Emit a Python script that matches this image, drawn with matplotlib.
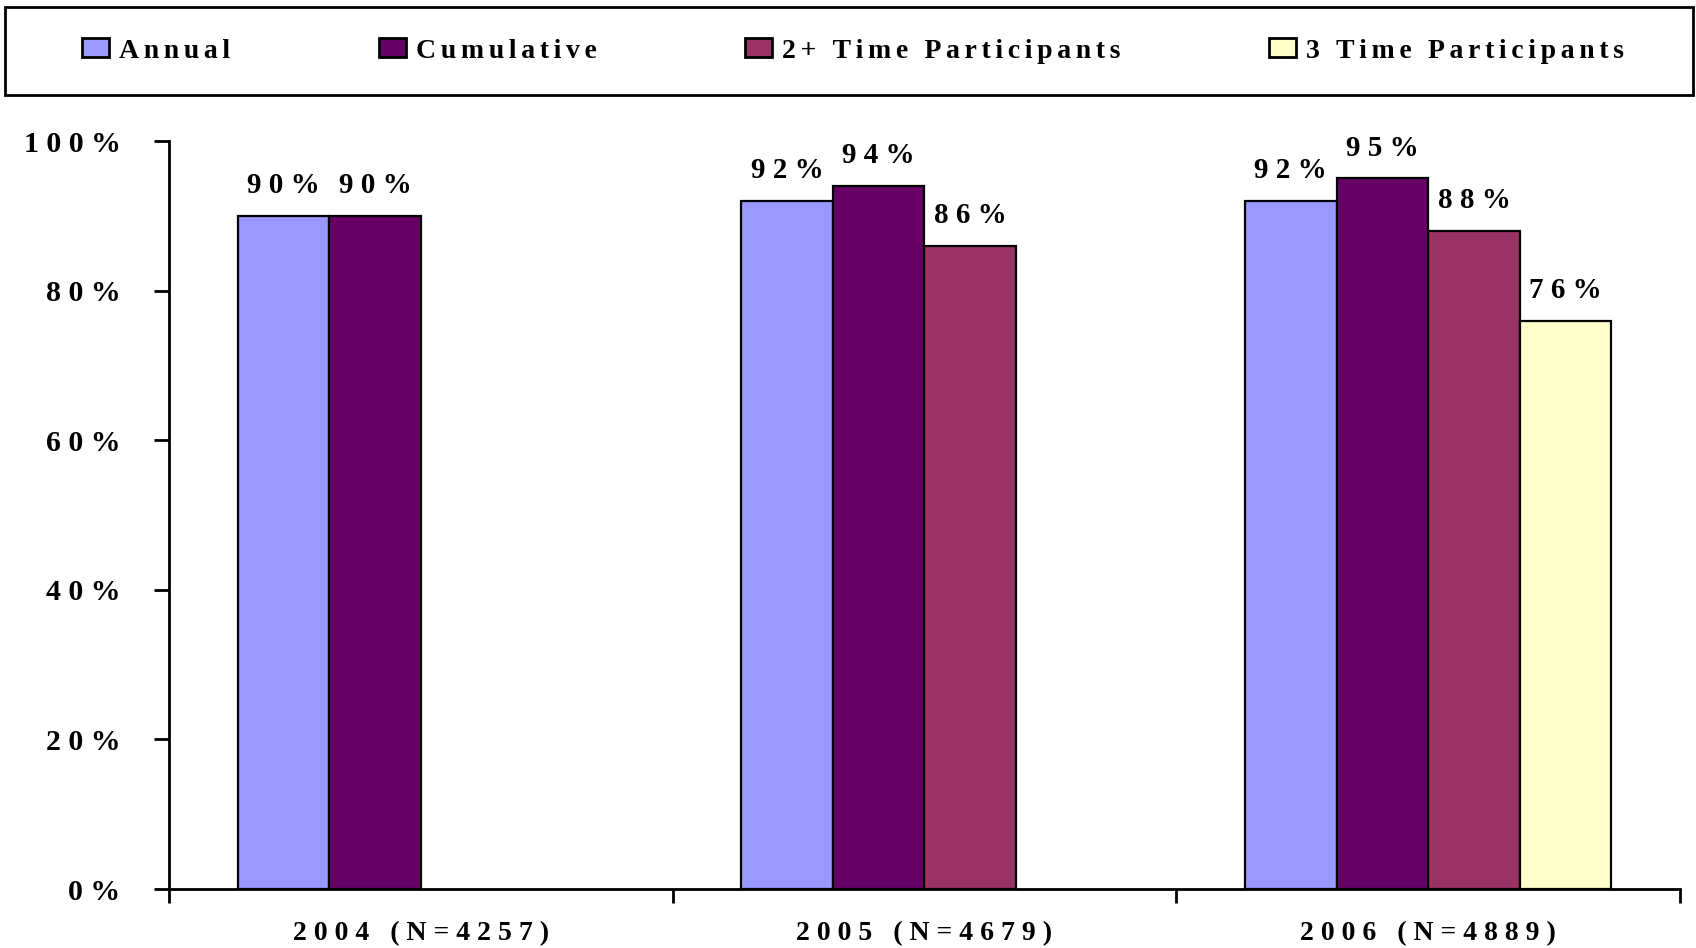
import matplotlib
matplotlib.use("Agg")
import matplotlib.pyplot as plt
from matplotlib.patches import Rectangle
import numpy as np

# Data
categories = ["2004 (N=4257)", "2005 (N=4679)", "2006 (N=4889)"]
series_names = ["Annual", "Cumulative", "2+ Time Participants", "3 Time Participants"]
annual = [90, 92, 92]
cumulative = [90, 94, 95]
two_plus = [None, 86, 88]
three_time = [None, None, 76]
y_ticks = [0, 20, 40, 60, 80, 100]

series_values = [annual, cumulative, two_plus, three_time]
colors = ["#9999FF", "#660066", "#993366", "#FFFFCC"]

plt.rcParams["font.family"] = ["Liberation Serif", "DejaVu Serif"]
plt.rcParams["font.weight"] = "bold"


def tracked(s, gap="\u2005"):
    """Widely tracked lettering: a narrow space between every character."""
    return gap.join(s)


W, H = 1696, 948
fig = plt.figure(figsize=(W / 100, H / 100), dpi=100)

# Plot area in pixel terms
left, right, top, bottom = 169, 1680, 141, 889
ax = fig.add_axes([left / W, 1 - bottom / H, (right - left) / W, (bottom - top) / H])

n_series = len(series_names)
bar_w = 1 / (n_series + 1.5)
x = np.arange(len(categories))

handles = []
for j, (name, vals, col) in enumerate(zip(series_names, series_values, colors)):
    offs = -n_series * bar_w / 2 + (j + 0.5) * bar_w
    xs = [xi + offs for xi, v in zip(x, vals) if v is not None]
    vs = [v for v in vals if v is not None]
    bars = ax.bar(xs, vs, width=bar_w, color=col, edgecolor="black",
                  linewidth=1.6, label=name, zorder=3)
    handles.append(bars)
    for xb, v in zip(xs, vs):
        ax.annotate(tracked(f"{v}%"), xy=(xb, v), xytext=(0, 12),
                    textcoords="offset points", ha="center", va="bottom",
                    fontsize=21, fontweight="bold")

ax.set_xlim(-0.5, len(categories) - 0.5)
ax.set_ylim(0, 100)

# Axes styling
for s in ["top", "right"]:
    ax.spines[s].set_visible(False)
for s in ["left", "bottom"]:
    ax.spines[s].set_linewidth(2)
    ax.spines[s].set_color("black")

ax.set_yticks(y_ticks)
ax.set_yticklabels([tracked(f"{t}%") for t in y_ticks], fontsize=21.5, fontweight="bold")
ax.tick_params(axis="y", direction="out", length=11, width=2, pad=24)

# Category separators as major ticks, labels on minor ticks at group centres
ax.set_xticks(np.arange(len(categories) + 1) - 0.5)
ax.set_xticklabels([])
ax.tick_params(axis="x", which="major", direction="out", length=10, width=2)
ax.set_xticks(x, minor=True)
ax.set_xticklabels([tracked(c) for c in categories], minor=True,
                   fontsize=20, fontweight="bold")
ax.tick_params(axis="x", which="minor", length=0, pad=23)

# Legend box across the top of the figure
fig.patches.append(Rectangle((5 / W, 1 - 95 / H), 1688 / W, 88 / H,
                             transform=fig.transFigure, fill=False,
                             edgecolor="black", linewidth=2))
leg = fig.legend(handles=handles,
                 labels=[tracked(n, "\u2006") for n in series_names], ncol=4,
                 bbox_to_anchor=(82 / W, 1 - 51 / H), loc="center left",
                 frameon=False, columnspacing=5.35, borderpad=0,
                 handlelength=0.97, handleheight=0.65, handletextpad=0.36,
                 borderaxespad=0, prop={"weight": "bold", "size": 20})
for p in leg.get_patches():
    p.set_linewidth(2)

fig.savefig("out.png", dpi=100)
